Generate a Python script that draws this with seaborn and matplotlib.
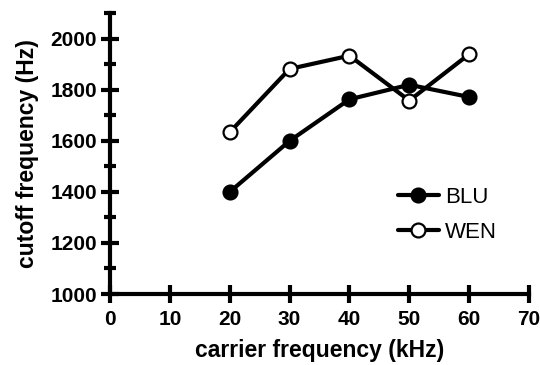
import matplotlib
matplotlib.use("Agg")
import matplotlib.pyplot as plt
from matplotlib.ticker import MultipleLocator
import pandas as pd
import seaborn as sns

# carrier frequency (kHz) and cutoff frequency (Hz) per subject
carrier_khz = [20, 30, 40, 50, 60]
blu_cutoff = [1400, 1600, 1763, 1820, 1772]
wen_cutoff = [1634, 1882, 1934, 1758, 1940]

sns.set_theme(style="ticks")
plt.rcParams["font.family"] = ["Liberation Sans", "DejaVu Sans"]
plt.rcParams["text.color"] = "black"
plt.rcParams["axes.labelcolor"] = "black"
plt.rcParams["xtick.color"] = "black"
plt.rcParams["ytick.color"] = "black"

df_blu = pd.DataFrame({"carrier": carrier_khz, "cutoff": blu_cutoff})
df_wen = pd.DataFrame({"carrier": carrier_khz, "cutoff": wen_cutoff})

fig = plt.figure(figsize=(5.4, 3.65), dpi=100)
ax = fig.add_axes([0.2037, 0.1945, 0.776, 0.769])

common = dict(x="carrier", y="cutoff", ax=ax, color="black", linewidth=3,
              marker="o", markersize=10, markeredgecolor="black",
              markeredgewidth=1.6, clip_on=False)
sns.lineplot(data=df_blu, label="BLU", markerfacecolor="black", **common)
sns.lineplot(data=df_wen, label="WEN", markerfacecolor="white", **common)

ax.set_xlim(0, 70)
ax.set_ylim(1000, 2100)
ax.xaxis.set_major_locator(MultipleLocator(10))
ax.yaxis.set_minor_locator(MultipleLocator(100))
ax.set_yticks([1000, 1200, 1400, 1600, 1800, 2000])

sns.despine(ax=ax)
for side in ("left", "bottom"):
    ax.spines[side].set_linewidth(3)
    ax.spines[side].set_color("black")

ax.tick_params(which="major", direction="inout", length=13, width=3,
               color="black", labelcolor="black", labelsize=15)
ax.tick_params(axis="x", which="major", pad=5)
ax.tick_params(axis="y", which="major", pad=3)
ax.tick_params(which="minor", direction="inout", length=8.5, width=3,
               color="black")
for lbl in ax.get_xticklabels() + ax.get_yticklabels():
    lbl.set_fontweight("bold")

ax.set_xlabel("carrier frequency (kHz)", fontsize=16.5, fontweight="bold",
              labelpad=7)
ax.set_ylabel("cutoff frequency (Hz)", fontsize=16.5, fontweight="bold",
              labelpad=8)

leg = ax.legend(loc="lower left", bbox_to_anchor=(0.665, 0.15), frameon=False,
                fontsize=16, handlelength=1.85, handletextpad=0.3,
                labelspacing=0.62, borderaxespad=0)
for line in leg.get_lines():
    line.set_linewidth(3)

fig.savefig("out.png", dpi=100)
